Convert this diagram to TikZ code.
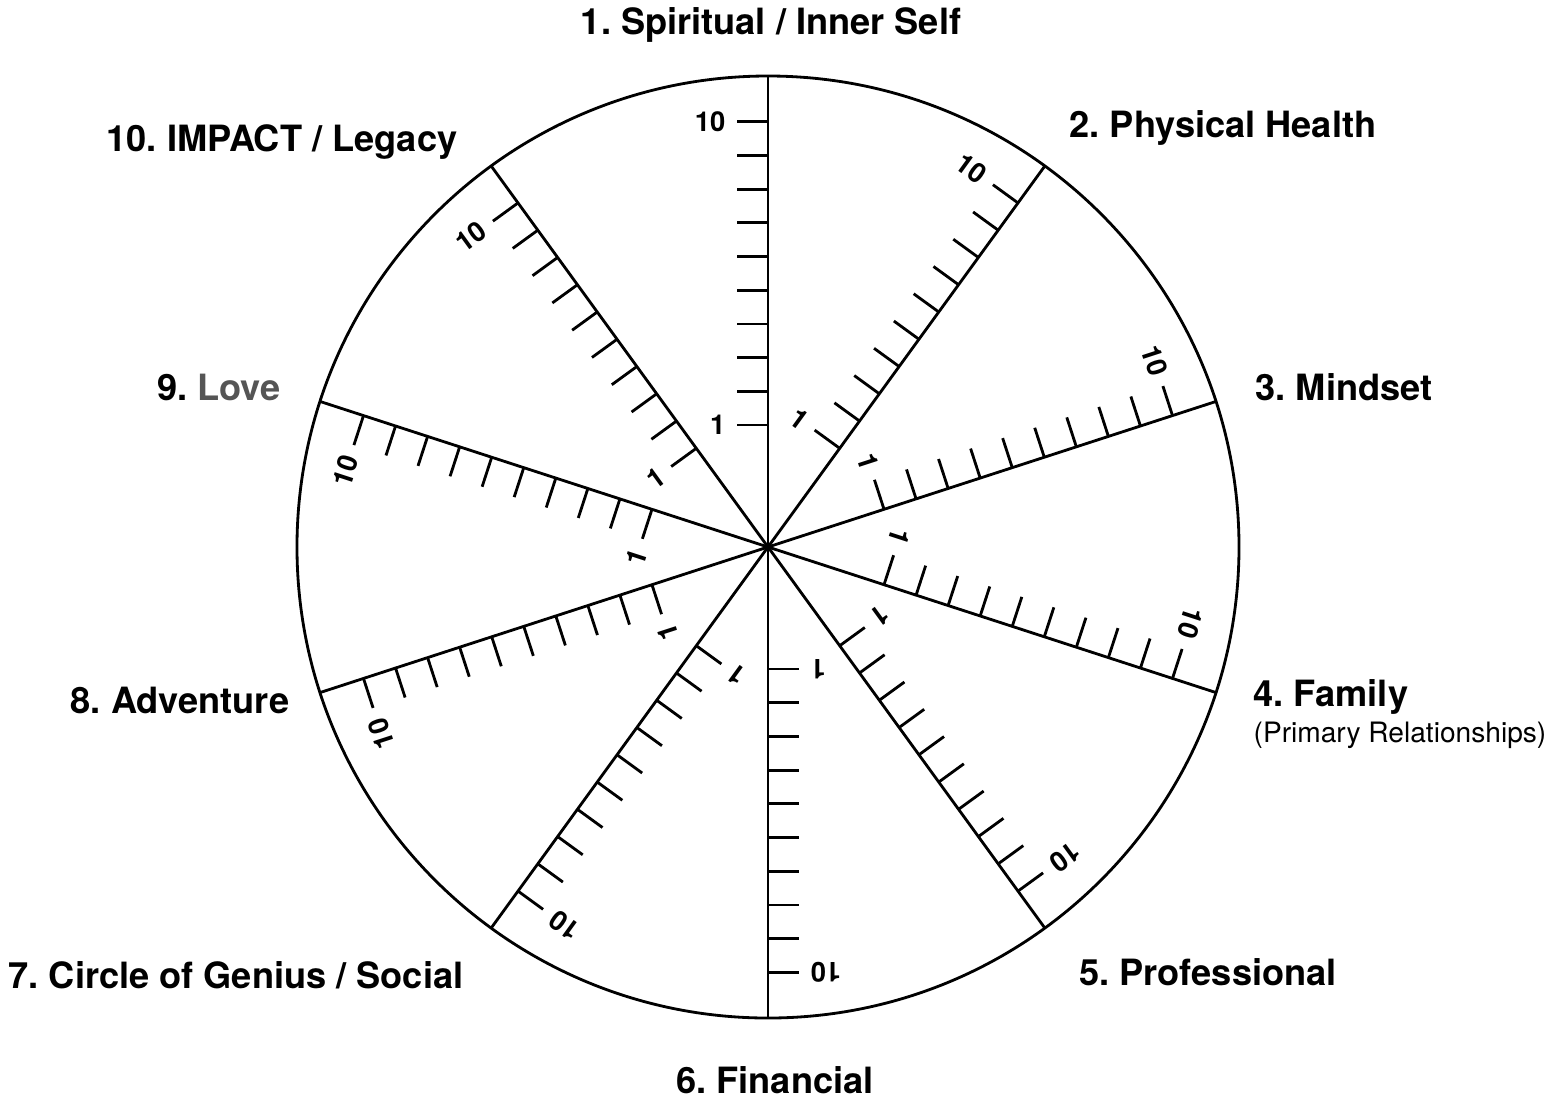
\documentclass[tikz,border=0pt]{standalone}
\usepackage{fontspec}
\setmainfont{TeX Gyre Heros}
\frenchspacing
\definecolor{lovegray}{RGB}{85,85,85}
\tikzset{
  wheel/.style={line width=0.8pt},
  area/.style={font=\fontsize{10.3}{12}\selectfont\bfseries, inner sep=0pt},
  subarea/.style={font=\fontsize{8}{10}\selectfont, inner sep=0pt},
  scalenum/.style={font=\fontsize{7.8}{9}\selectfont\bfseries, inner sep=0pt, anchor=east},
}
\begin{document}
\begin{tikzpicture}
\useasboundingbox (-7.68,-5.49) rectangle (7.98,5.47);
        %cerchio
        \draw[wheel] (0,0) circle (4.71);
        %raggi e tacche
        \foreach \i [evaluate=\i as \a using 90-36*\i] in {0,...,9}{
          \begin{scope}[rotate=\a-90, transform shape]
            \draw[wheel] (0,0) -- (0,4.71);
            \foreach \k [evaluate=\k as \r using 1.22+0.337*(\k-1)] in {1,...,10}
              \draw[wheel] (0,\r) -- ++(-0.31,0);
            \node[scalenum] (one\i) at (-0.42,1.22) {1};
            \node[scalenum] (ten\i) at (-0.42,4.253) {10};
          \end{scope}
        }
        %label
        \node[area] (spiritual) at (0.03,5.22) {1. Spiritual / Inner Self};
        \node[area] (physical) at (4.55,4.19) {2. Physical Health};
        \node[area] (mindset) at (5.76,1.60) {3. Mindset};
        \node[area, anchor=west] (family) at (4.85,-1.50) {4. Family};
        \node[subarea, anchor=west] (primary) at (4.85,-1.88) {(Primary Relationships)};
        \node[area] (professional) at (4.40,-4.25) {5. Professional};
        \node[area] (financial) at (0.07,-5.33) {6. Financial};
        \node[area] (genius) at (-5.32,-4.28) {7. Circle of Genius / Social};
        \node[area] (adventure) at (-5.88,-1.53) {8. Adventure};
        \node[area] (love) at (-5.49,1.60) {9. \textcolor{lovegray}{Love}};
        \node[area] (impact) at (-4.86,4.05) {10. IMPACT / Legacy};
\end{tikzpicture}
\end{document}
